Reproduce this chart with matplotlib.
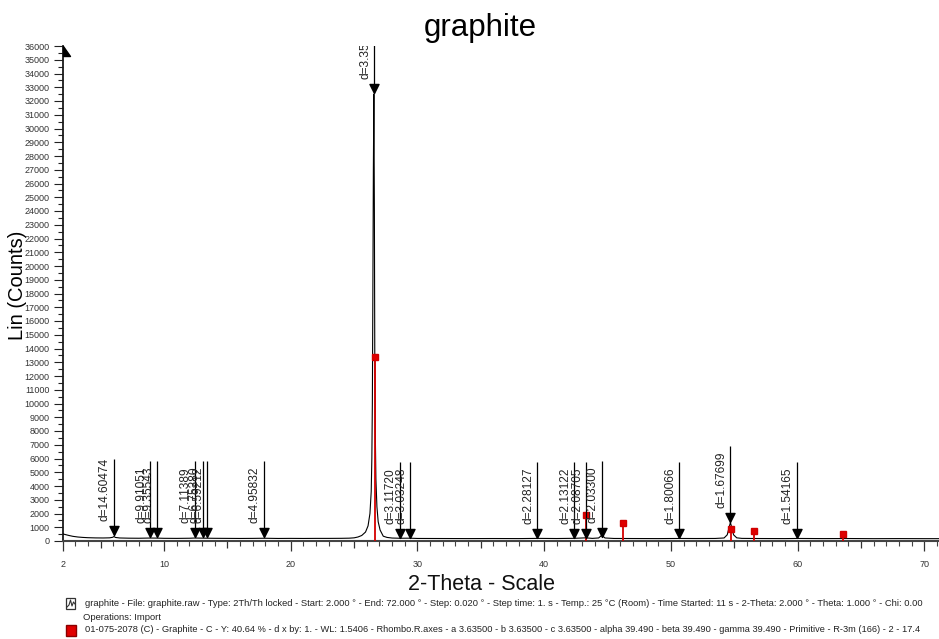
import numpy as np
import matplotlib
matplotlib.use("Agg")
import matplotlib.pyplot as plt
from matplotlib.path import Path
from matplotlib.patches import Rectangle

plt.rcParams['font.family'] = ['Liberation Sans', 'DejaVu Sans']

# ---------------- data ----------------
# measured pattern (2-Theta in degrees, Lin counts)
two_theta = [2.0, 2.2, 2.5, 2.8, 3.2, 3.6, 4.0, 4.6, 5.2, 5.7, 5.95, 6.05, 6.15, 6.5,
             7.2, 8.0, 8.9, 9.4, 10.0, 11.0, 12.0, 12.4, 13.2, 14.0, 15.0, 16.0, 17.0,
             17.9, 19.0, 20.0, 21.0, 22.0, 23.0, 24.0, 24.6, 25.0, 25.3, 25.6, 25.9,
             26.1, 26.25, 26.35, 26.40, 26.44, 26.48, 26.52, 26.56, 26.60, 26.63, 26.67,
             26.72, 26.80, 26.90, 27.05, 27.3, 27.6, 28.0, 28.6, 29.4, 30.0, 32.0, 34.0,
             36.0, 38.0, 39.5, 41.0, 42.4, 43.3, 43.8, 44.3, 44.55, 44.8, 45.5, 47.0,
             49.0, 50.7, 52.0, 53.5, 54.2, 54.45, 54.6, 54.7, 54.8, 54.95, 55.2, 55.6,
             57.0, 59.0, 60.0, 62.0, 64.0, 66.0, 68.0, 70.0, 71.2]
counts = [520, 470, 400, 340, 290, 260, 240, 225, 220, 230, 270, 330, 260, 220,
          205, 200, 215, 210, 195, 190, 200, 215, 205, 195, 190, 185, 190,
          200, 185, 190, 185, 190, 190, 195, 205, 230, 290, 400, 650,
          1100, 2000, 3600, 6000, 10000, 18000, 27000, 32500, 24000, 14000, 8000,
          4500, 2500, 1400, 800, 350, 260, 215, 200, 205, 185, 180, 175,
          180, 175, 190, 180, 195, 230, 190, 220, 420, 220, 185, 180,
          175, 185, 180, 185, 220, 450, 1000, 1350, 1000, 450, 230, 190,
          180, 175, 185, 175, 180, 170, 175, 170, 170]

# peak search results: d-spacings (Angstrom) and intensity at the arrow tip
d_values = [14.60474, 9.91051, 9.35543, 7.11389, 6.75280, 6.59212, 4.95832,
            3.35201, 3.11720, 3.03248, 2.28127, 2.13122, 2.08705, 2.03300,
            1.80066, 1.67699, 1.54165]
d_tip_counts = [430, 290, 290, 290, 290, 290, 290,
                32580, 220, 220, 220, 220, 220, 290,
                220, 1380, 220]

# reference card 01-075-2078 (Graphite, rhombohedral) stick pattern
card_two_theta = [26.63, 43.33, 46.20, 54.72, 56.56, 63.56]
card_counts = [13400, 1900, 1300, 870, 750, 500]

wavelength = 1.5406
y_ticks = list(range(0, 36001, 1000))
x_tick_labels = [2, 10, 20, 30, 40, 50, 60, 70]

title = "graphite"
x_label = "2-Theta - Scale"
y_label = "Lin (Counts)"
footer_lines = [
    "graphite - File: graphite.raw - Type: 2Th/Th locked - Start: 2.000 \u00b0 - End: 72.000 \u00b0 - "
    "Step: 0.020 \u00b0 - Step time: 1. s - Temp.: 25 \u00b0C (Room) - Time Started: 11 s - "
    "2-Theta: 2.000 \u00b0 - Theta: 1.000 \u00b0 - Chi: 0.00",
    "Operations: Import",
    "01-075-2078 (C) - Graphite - C - Y: 40.64 % - d x by: 1. - WL: 1.5406 - Rhombo.R.axes - "
    "a 3.63500 - b 3.63500 - c 3.63500 - alpha 39.490 - beta 39.490 - gamma 39.490 - "
    "Primitive - R-3m (166) - 2 - 17.4",
]

# ---------------- figure ----------------
W, H = 939, 639
fig = plt.figure(figsize=(W / 100, H / 100), dpi=100)
fig.patch.set_facecolor("white")

x0_px, x1_px = 62.7, 939.0
y0_px, y1_px = 541.0, 46.0
ax = fig.add_axes([x0_px / W, 1 - y0_px / H, (x1_px - x0_px) / W, (y0_px - y1_px) / H])
px_per_deg = 12.67
ax.set_xlim(2, 2 + (x1_px - x0_px) / px_per_deg)
ax.set_ylim(0, 36000)

for s in ("top", "right"):
    ax.spines[s].set_visible(False)
ax.spines["left"].set_color("#1a1a1a")
ax.spines["left"].set_linewidth(1.3)
ax.spines["bottom"].set_color("#444444")
ax.spines["bottom"].set_linewidth(1.5)

# measured pattern
ax.plot(two_theta, counts, color="black", lw=0.8, zorder=3)

# reference sticks
ax.vlines(card_two_theta, 0, card_counts, color="#d40000", lw=1.3, zorder=4)
ax.plot(card_two_theta, card_counts, ls="none", marker="s", ms=4.2,
        color="#e00000", mec="#d00000", zorder=5)

# d-spacing arrows
tip_path = Path([(0, 0), (-0.5, 1), (0.5, 1), (0, 0)],
                [Path.MOVETO, Path.LINETO, Path.LINETO, Path.CLOSEPOLY])
stick_len = 5500
d_two_theta = [2 * np.degrees(np.arcsin(wavelength / (2 * d))) for d in d_values]
for d, x, tip in zip(d_values, d_two_theta, d_tip_counts):
    ax.vlines(x, tip, tip + stick_len, color="black", lw=0.9, zorder=6)
    ax.plot([x], [tip], ls="none", marker=tip_path, ms=13, color="black", zorder=7)
    t = ax.annotate(f"d={d:.5f}", xy=(x, tip), xytext=(-9, 14), textcoords="offset pixels",
                    rotation=90, ha="center", va="bottom", fontsize=8.6,
                    color="#222222", zorder=8, annotation_clip=False)
    t.set_clip_on(True)
    t.set_clip_box(ax.bbox)

# y axis ticks
ax.set_yticks(y_ticks)
ax.set_yticklabels([str(v) for v in y_ticks])
ax.set_yticks([v + 500 for v in y_ticks[:-1]], minor=True)
ax.tick_params(axis="y", which="major", direction="out", length=6.5, width=0.8,
               labelsize=6.5, labelcolor="#333333", pad=3, color="#222222")
ax.tick_params(axis="y", which="minor", direction="out", length=3.5, width=0.8,
               color="#222222")

# x axis ticks: integers minor, multiples of 5 medium, labelled ones long
major_x = sorted(set(x_tick_labels) | set(range(5, 72, 5)))
ax.set_xticks(major_x)
ax.set_xticklabels([str(v) if v in x_tick_labels else "" for v in major_x])
ax.set_xticks([v for v in range(3, 72) if v not in major_x], minor=True)
ax.tick_params(axis="x", which="major", direction="out", length=7, width=0.9,
               labelsize=6.5, labelcolor="#333333", pad=7, color="#333333")
ax.tick_params(axis="x", which="minor", direction="out", length=3.5, width=0.8,
               color="#444444")
for v, tk in zip(major_x, ax.xaxis.get_major_ticks()):
    if v not in x_tick_labels:
        tk.tick1line.set_markersize(5)

# small wedge at the top of the y axis
wedge = Path([(0, 0), (0, -1), (0.7, -1), (0, 0)],
             [Path.MOVETO, Path.LINETO, Path.LINETO, Path.CLOSEPOLY])
ax.plot([2], [36000], ls="none", marker=wedge, ms=14, color="black", clip_on=False, zorder=9)

# titles
fig.text(480 / W, 1 - 28 / H, title, ha="center", va="center", fontsize=22.5, color="black")
fig.text(18 / W, 1 - 285 / H, y_label, ha="center", va="center", rotation=90,
         fontsize=14.5, color="black")
fig.text(481 / W, 1 - 584 / H, x_label, ha="center", va="center", fontsize=15.5, color="#111111")

# footer
fig.canvas.draw()
renderer = fig.canvas.get_renderer()
foot_specs = [(85, 604, 845), (83, 617, None), (85, 630, 845)]
foot_texts = []
for (fx, fy, fw), line in zip(foot_specs, footer_lines):
    t = fig.text(fx / W, 1 - fy / H, line, ha="left", va="center", fontsize=6.0, color="#222222")
    if fw is not None:
        w = t.get_window_extent(renderer).width
        t.set_fontsize(6.0 * fw / w)
    foot_texts.append(t)
foot_texts[1].set_fontsize(foot_texts[0].get_fontsize())

# legend icons
icon_ax = fig.add_axes([0, 0, 1, 1], facecolor="none")
icon_ax.set_xlim(0, W)
icon_ax.set_ylim(H, 0)
icon_ax.axis("off")
icon_ax.add_patch(Rectangle((66, 598), 9, 11, fill=False, ec="#333333", lw=0.9))
icon_ax.plot([67, 69, 70.5, 72, 73.5, 75], [607, 605, 600, 606, 602, 604], color="#333333", lw=0.8)
icon_ax.add_patch(Rectangle((65.5, 624.5), 10, 11, fc="#e00000", ec="#8a0000", lw=1.0))

fig.savefig("out.png", dpi=100, facecolor="white")
